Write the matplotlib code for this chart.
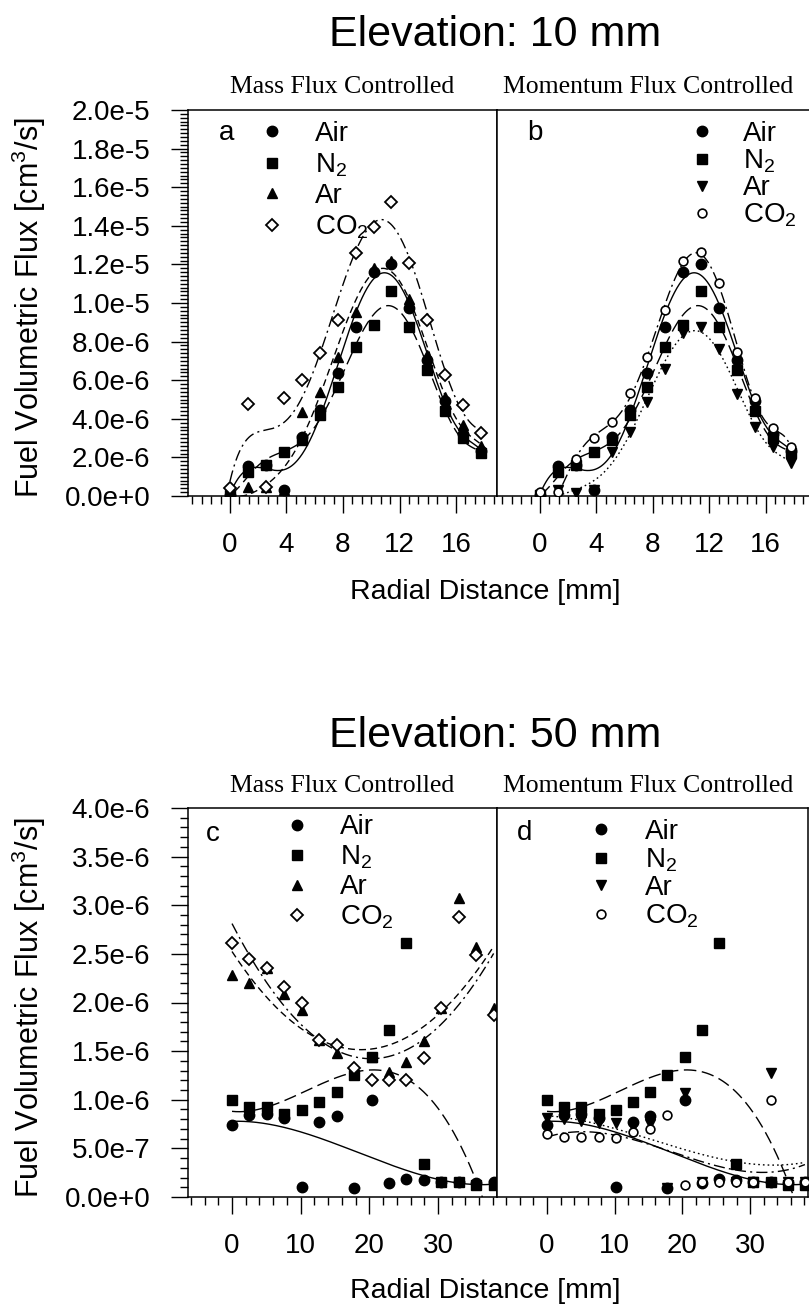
import numpy as np
import matplotlib
matplotlib.use("Agg")
import matplotlib.pyplot as plt
from matplotlib.lines import Line2D
from matplotlib.ticker import MultipleLocator, AutoMinorLocator, FuncFormatter

plt.rcParams['font.family'] = ['Liberation Sans', 'DejaVu Sans']
plt.rcParams['mathtext.fontset'] = 'custom'
plt.rcParams['mathtext.rm'] = 'Liberation Sans'
plt.rcParams['mathtext.it'] = 'Liberation Sans:italic'
plt.rcParams['mathtext.bf'] = 'Liberation Sans:bold'

W, H = 809, 1314

# radial positions [mm]
r_10 = [0.0, 1.27, 2.54, 3.81, 5.08, 6.35, 7.62, 8.89, 10.16, 11.43, 12.70, 13.97, 15.24, 16.51, 17.78]
r_50 = [0.0, 2.54, 5.08, 7.62, 10.16, 12.70, 15.24, 17.78, 20.32, 22.86, 25.40, 27.94, 30.48, 33.02, 35.56, 38.10]

# fuel volumetric flux in 1e-6 cm^3/s, elevation 10 mm
air_10 = [0.05, 1.55, 1.60, 0.30, 3.07, 4.45, 6.37, 8.77, 11.6, 12.0, 9.72, 7.05, 4.90, 3.20, 2.35]
n2_10 = [0.05, 1.25, 1.60, 2.30, 2.90, 4.20, 5.66, 7.74, 8.86, 10.6, 8.77, 6.53, 4.40, 3.00, 2.25]
ar_mass_10 = [0.05, 0.48, 0.45, 0.30, 4.37, 5.40, 7.20, 9.55, 11.8, 12.2, 10.2, 7.30, 5.15, 3.70, 2.60]
co2_mass_10 = [0.40, 4.77, 0.48, 5.06, 6.00, 7.40, 9.10, 12.57, 13.95, 15.25, 12.05, 9.10, 6.27, 4.70, 3.25]
ar_mom_10 = [0.05, 0.30, 0.15, 0.30, 2.30, 3.33, 4.88, 6.60, 8.43, 8.77, 7.60, 5.30, 3.59, 2.55, 1.69]
co2_mom_10 = [0.20, 0.20, 1.90, 2.99, 3.85, 5.32, 7.20, 9.63, 12.2, 12.65, 11.05, 7.47, 5.06, 3.50, 2.55]

# fuel volumetric flux in 1e-6 cm^3/s, elevation 50 mm
air_50 = [0.74, 0.84, 0.85, 0.81, 0.10, 0.77, 0.83, 0.09, 1.00, 0.14, 0.19, 0.17, 0.15, 0.15, 0.14, 0.15]
n2_50 = [1.00, 0.93, 0.93, 0.85, 0.89, 0.98, 1.08, 1.25, 1.44, 1.72, 2.61, 0.34, 0.15, 0.15, 0.12, 0.12]
ar_mass_50 = [2.28, 2.20, 2.35, 2.09, 1.92, 1.61, 1.48, 1.33, 1.44, 1.29, 1.39, 1.60, 1.94, 3.07, 2.57, 1.94]
co2_mass_50 = [2.61, 2.45, 2.35, 2.16, 1.99, 1.61, 1.56, 1.33, 1.20, 1.20, 1.20, 1.43, 1.94, 2.88, 2.49, 1.87]
ar_mom_50 = [0.81, 0.80, 0.78, 0.76, 0.76, 0.72, 0.75, 0.09, 1.07, 0.15, 0.15, 0.15, 0.15, 1.27, 0.15, 0.15]
co2_mom_50 = [0.65, 0.62, 0.62, 0.62, 0.61, 0.67, 0.70, 0.84, 0.12, 0.15, 0.15, 0.15, 0.15, 1.00, 0.15, 0.15]

labels = ['Air', 'N$_2$', 'Ar', 'CO$_2$']

m_air = dict(marker='o', ms=7.5, mfc='black', mec='black')
m_n2 = dict(marker='s', ms=6.8, mfc='black', mec='black')
m_ar_up = dict(marker='^', ms=7.5, mfc='black', mec='black')
m_ar_dn = dict(marker='v', ms=7.5, mfc='black', mec='black')
m_co2_dia = dict(marker='D', ms=5.8, mfc='white', mec='black', mew=1.3)
m_co2_circ = dict(marker='o', ms=6.3, mfc='white', mec='black', mew=1.2)

ls_air = '-'
ls_n2 = (0, (9, 4))
ls_ar_mass = (0, (5, 3))
ls_co2 = (0, (8, 3, 1.5, 3))
ls_ar_mom = (0, (1.2, 2.2))


def box(l, t, r, b):
    return [l / W, 1 - b / H, (r - l) / W, (b - t) / H]


def sci(v, pos):
    m, e = f"{v:.1e}".split("e")
    return f"{m}e{int(e):+d}"


def draw_panel(ax, x, series, xlim, ylim, xmajor, xminor, ymajor, yminor,
               letter, letter_xy, leg_anchor, leg_pad, leg_space, show_y):
    # polynomial trend lines first, markers on top
    for y, mk, ls, deg in series:
        p = np.polynomial.Polynomial.fit(x, y, deg)
        xs = np.linspace(x[0], x[-1], 400)
        ax.plot(xs, p(xs) * 1e-6, color='black', lw=1.0, linestyle=ls, zorder=2)
    handles = []
    for y, mk, ls, deg in series:
        ax.plot(x, np.array(y) * 1e-6, linestyle='none', zorder=3, **mk)
        handles.append(Line2D([], [], linestyle='none', **mk))

    ax.set_xlim(*xlim)
    ax.set_ylim(*ylim)
    ax.xaxis.set_major_locator(MultipleLocator(xmajor))
    ax.xaxis.set_minor_locator(AutoMinorLocator(xminor))
    ax.yaxis.set_major_locator(MultipleLocator(ymajor))
    ax.yaxis.set_minor_locator(AutoMinorLocator(yminor))
    ax.yaxis.set_major_formatter(FuncFormatter(sci))
    ax.tick_params(which='both', direction='out', top=False, right=False, width=1.0)
    ax.tick_params(which='major', length=12, labelsize=20)
    ax.tick_params(which='minor', length=6)
    ax.tick_params(axis='x', which='major', pad=14)
    ax.tick_params(axis='y', which='major', pad=15)
    if not show_y:
        ax.tick_params(axis='y', which='both', left=False, labelleft=False)
    for s in ax.spines.values():
        s.set_linewidth(1.1)

    ax.text(letter_xy[0], letter_xy[1], letter, transform=ax.transAxes,
            ha='center', va='baseline', fontsize=20)
    ax.legend(handles, labels, loc='upper left', bbox_to_anchor=leg_anchor,
              frameon=False, fontsize=20, borderpad=0, borderaxespad=0,
              handlelength=1.0, handletextpad=leg_pad, labelspacing=leg_space)


fig = plt.figure(figsize=(W / 100, H / 100), dpi=100)

ax_a = fig.add_axes(box(188, 110, 497, 496))
ax_b = fig.add_axes(box(497, 110, 809, 496))
ax_c = fig.add_axes(box(188, 808, 497, 1197))
ax_d = fig.add_axes(box(497, 808, 807.5, 1197))

draw_panel(ax_a, r_10,
           [(air_10, m_air, ls_air, 7), (n2_10, m_n2, ls_n2, 7),
            (ar_mass_10, m_ar_up, ls_ar_mass, 7), (co2_mass_10, m_co2_dia, ls_co2, 7)],
           (-2.97, 18.90), (0, 2e-5), 4, 6, 2e-6, 10,
           'a', (0.126, 0.922), (0.2265, 0.972), 1.05, 0.16, True)
draw_panel(ax_b, r_10,
           [(air_10, m_air, ls_air, 7), (n2_10, m_n2, ls_n2, 7),
            (ar_mom_10, m_ar_dn, ls_ar_mom, 7), (co2_mom_10, m_co2_circ, ls_co2, 7)],
           (-3.05, 19.08), (0, 2e-5), 4, 6, 2e-6, 10,
           'b', (0.122, 0.922), (0.612, 0.972), 0.97, 0.02, False)
draw_panel(ax_c, r_50,
           [(air_50, m_air, ls_air, 3), (n2_50, m_n2, ls_n2, 3),
            (ar_mass_50, m_ar_up, ls_ar_mass, 3), (co2_mass_50, m_co2_dia, ls_co2, 3)],
           (-6.41, 38.59), (0, 4e-6), 10, 5, 5e-7, 5,
           'c', (0.081, 0.915), (0.307, 0.984), 1.04, 0.12, True)
draw_panel(ax_d, r_50,
           [(air_50, m_air, ls_air, 3), (n2_50, m_n2, ls_n2, 3),
            (ar_mom_50, m_ar_dn, ls_ar_mom, 3), (co2_mom_50, m_co2_circ, ls_co2, 3)],
           (-7.39, 38.48), (0, 4e-6), 10, 5, 5e-7, 5,
           'd', (0.09, 0.918), (0.29, 0.972), 1.08, 0.05, False)
ax_b.spines['right'].set_visible(False)

serif = ['Liberation Serif', 'DejaVu Serif']
for top, sub_base, title, xl_y, yl_y in [(46, 93, 'Elevation: 10 mm', 592, 308),
                                         (747, 792, 'Elevation: 50 mm', 1291, 1008)]:
    fig.text(495 / W, 1 - top / H, title, ha='center', va='baseline', fontsize=31)
    fig.text(342 / W, 1 - sub_base / H, 'Mass Flux Controlled', ha='center',
             va='baseline', fontsize=18.5, family=serif)
    fig.text(648 / W, 1 - sub_base / H, 'Momentum Flux Controlled', ha='center',
             va='baseline', fontsize=18.5, family=serif)
    fig.text(485 / W, 1 - xl_y / H, 'Radial Distance [mm]', ha='center',
             va='center', fontsize=20.5)
    fig.text(29 / W, 1 - yl_y / H, 'Fuel Volumetric Flux [cm$^3$/s]', rotation=90,
             ha='center', va='center', fontsize=22)

fig.savefig('out.png', dpi=100)
